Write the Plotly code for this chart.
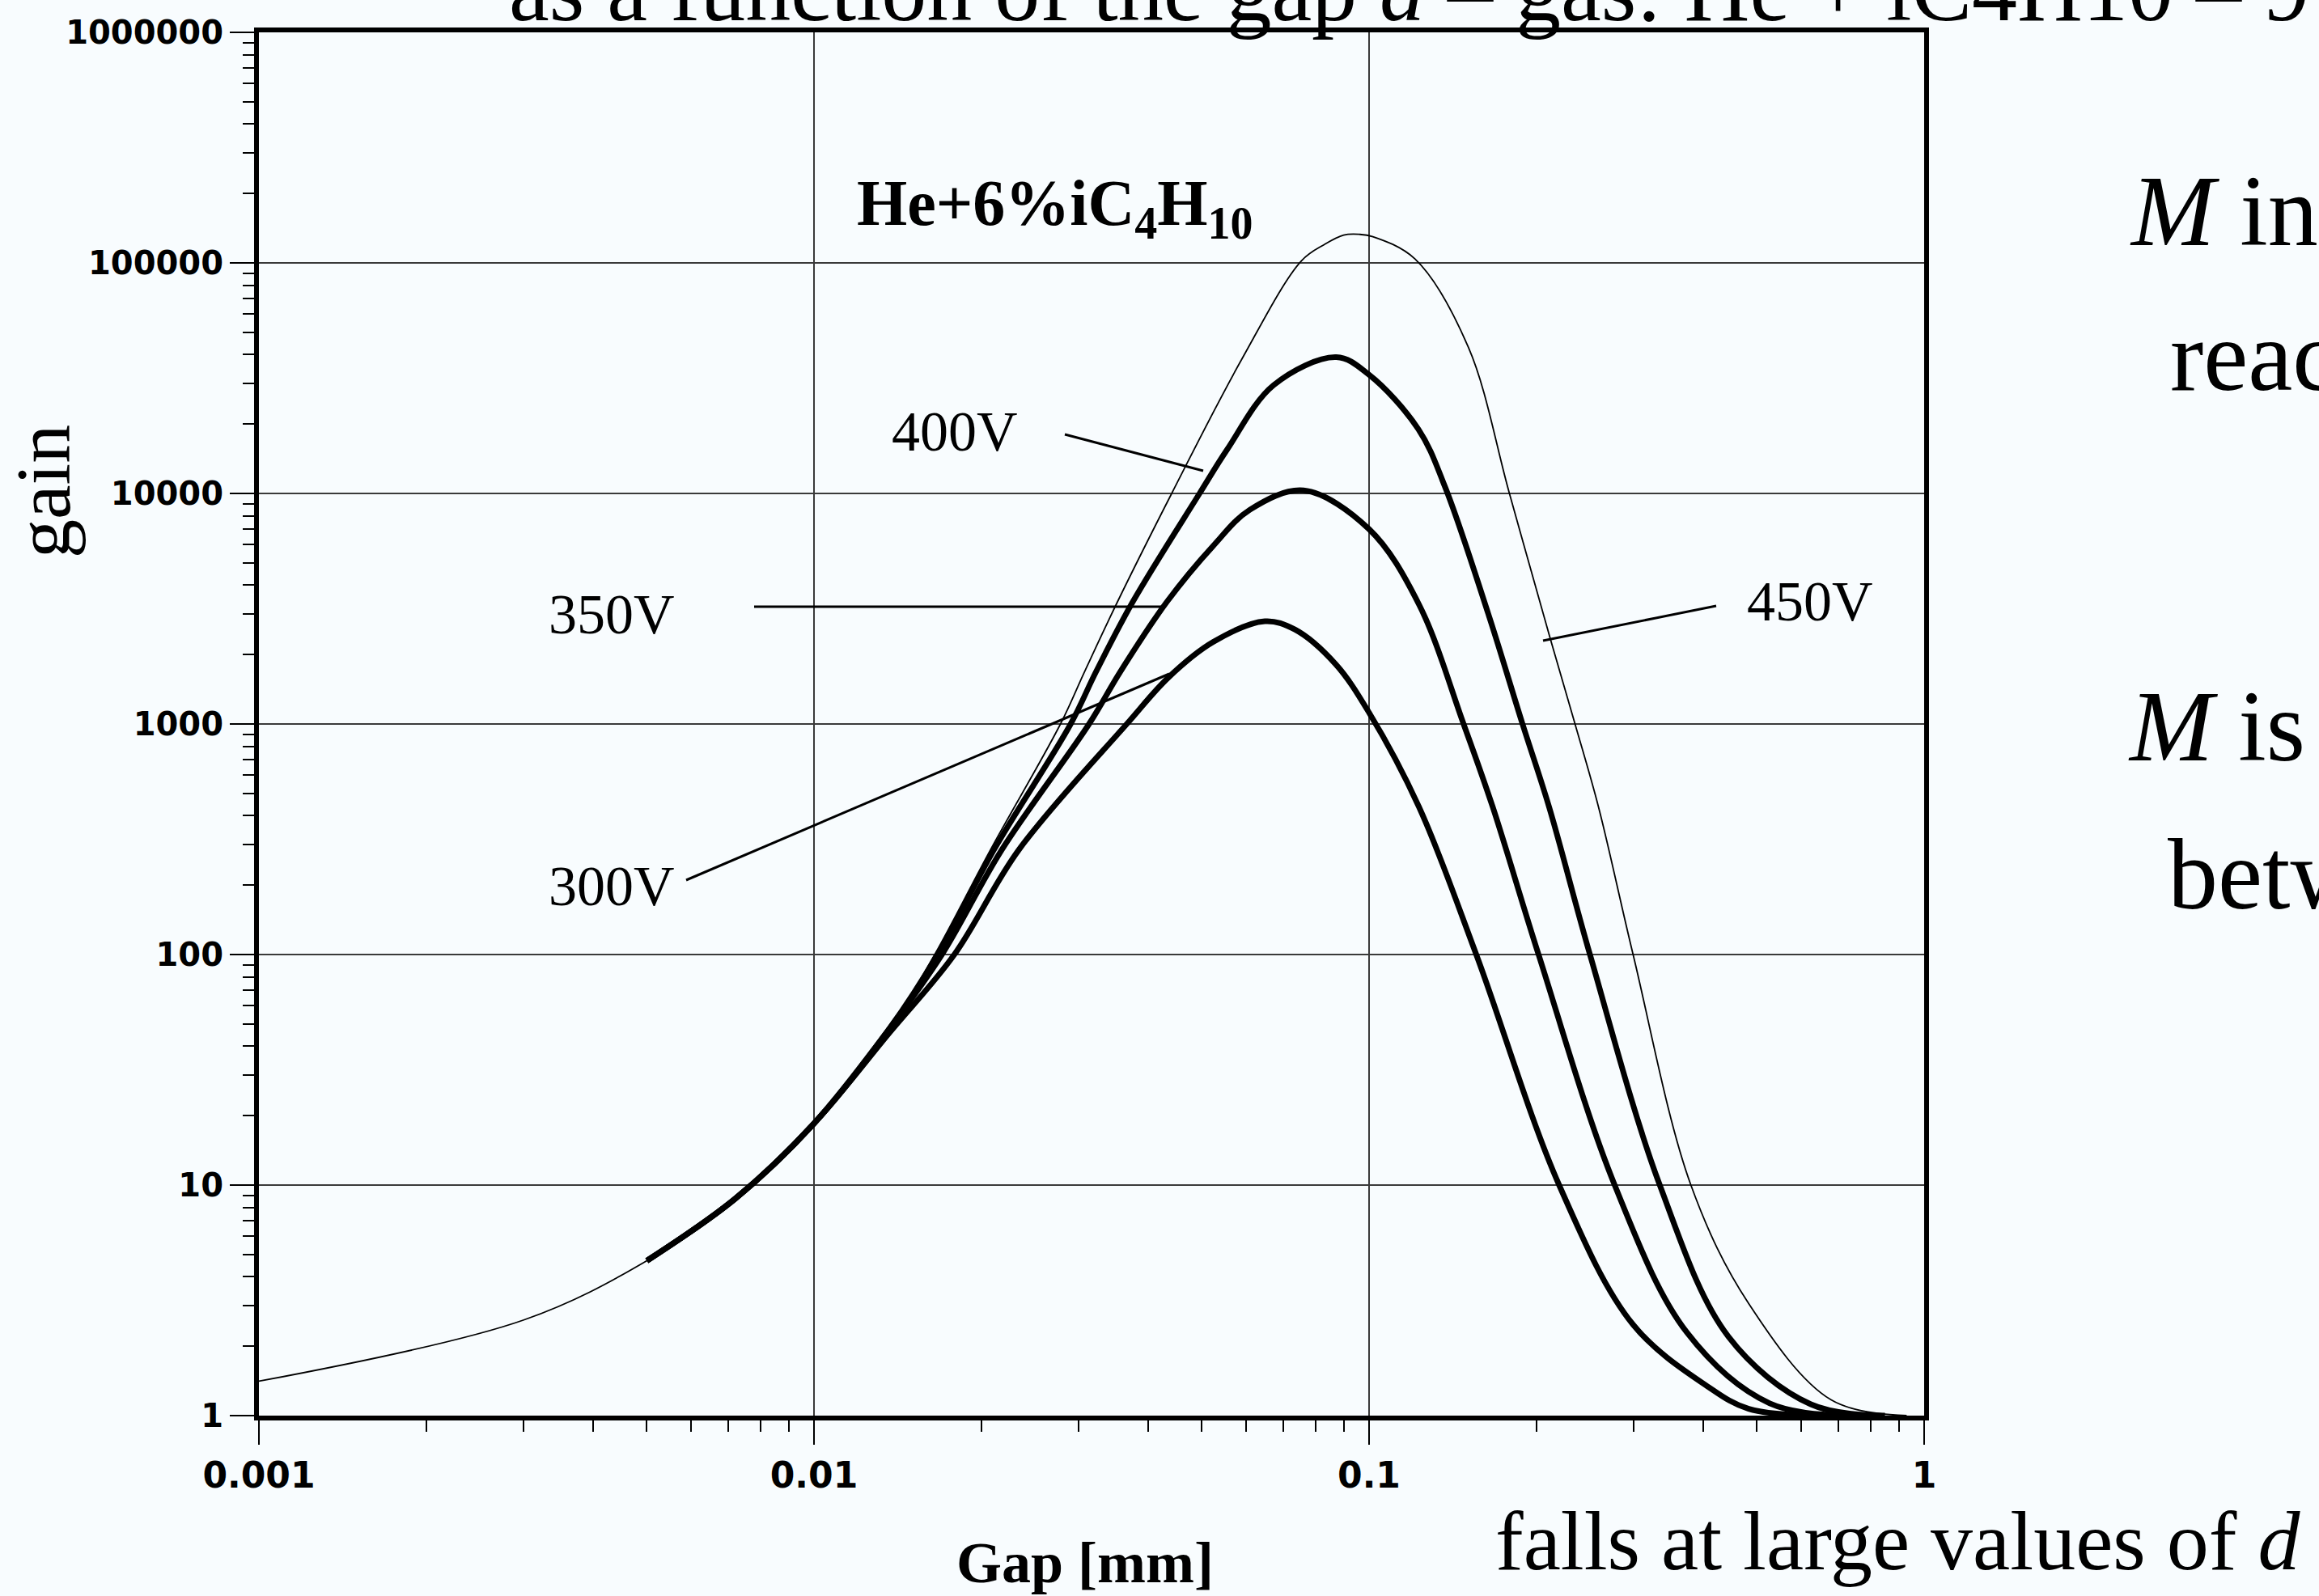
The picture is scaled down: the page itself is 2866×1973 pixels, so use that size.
import plotly.graph_objects as go

# ---------------- data ----------------
gap_450 = [0.001, 0.003, 0.005, 0.0072, 0.010, 0.0137, 0.0165, 0.0208, 0.0278, 0.0307, 0.0352,
           0.0441, 0.0589, 0.0755, 0.083, 0.090, 0.096, 0.1016, 0.121, 0.151, 0.179, 0.212,
           0.235, 0.259, 0.299, 0.38, 0.483, 0.68, 0.93]
gain_450 = [1.41, 2.6, 4.7, 8.7, 18.5, 48, 100, 285, 1000, 1680, 3380,
            10000, 38000, 102000, 120000, 132000, 133000, 130000, 104000, 43000, 10000, 2350,
            1000, 437, 100, 10, 3.06, 1.17, 1.0]

gap_400 = [0.005, 0.0072, 0.010, 0.0137, 0.0167, 0.0211, 0.029, 0.0322, 0.0375, 0.0495, 0.0555,
           0.0673, 0.0873, 0.1, 0.1227, 0.137, 0.164, 0.189, 0.211, 0.25, 0.334, 0.444, 0.625, 0.85]
gain_400 = [4.7, 8.7, 18.5, 48, 100, 285, 1000, 1680, 3380, 10000, 15500,
            29500, 39000, 32700, 19000, 10700, 3000, 1000, 437, 100, 10, 2.2, 1.12, 1.0]

gap_350 = [0.005, 0.0072, 0.010, 0.0137, 0.0170, 0.0218, 0.0313, 0.0356, 0.0432, 0.0523, 0.061,
           0.0762, 0.1, 0.123, 0.148, 0.167, 0.202, 0.277, 0.374, 0.527, 0.75]
gain_350 = [4.7, 8.7, 18.5, 48, 100, 285, 1000, 1680, 3380, 5900, 8500,
            10300, 7000, 3300, 1000, 437, 100, 10, 2.29, 1.13, 1.0]

gap_300 = [0.005, 0.0072, 0.010, 0.0137, 0.0179, 0.0234, 0.0366, 0.0436, 0.0524, 0.0649,
           0.0735, 0.087, 0.1, 0.123, 0.156, 0.22, 0.299, 0.407, 0.483, 0.65]
gain_300 = [4.7, 8.7, 18.5, 46, 100, 285, 1000, 1600, 2270, 2790,
            2570, 1820, 1120, 437, 100, 10, 2.48, 1.34, 1.07, 1.0]

voltage_labels = ["300V", "350V", "400V", "450V"]
mixture_label = "<b>He+6%iC<sub>4</sub>H<sub>10</sub></b>"
x_title = "<b>Gap [mm]</b>"
y_title = "gain"

# ---------------- layout helpers ----------------
W, H = 2866, 1973
L, R, T, B = 320, 2378, 40, 1750
BG = "#F8FCFE"
SERIF = "Liberation Serif, Times New Roman, serif"
SANS = "DejaVu Sans, Arial, sans-serif"


def px(X):
    return (X - L) / (R - L)


def py(Y):
    return (B - Y) / (B - T)


fig = go.Figure()

series = [
    (gap_300, gain_300, 7),
    (gap_350, gain_350, 7),
    (gap_400, gain_400, 7),
    (gap_450, gain_450, 1.8),
]
for gx, gy, w in series:
    fig.add_trace(go.Scatter(
        x=gx, y=gy, mode="lines",
        line=dict(color="black", width=w, shape="spline", smoothing=1.0),
        showlegend=False, hoverinfo="skip"))

axis_common = dict(
    type="log", tickmode="linear", dtick=1, exponentformat="none",
    showgrid=True, gridcolor="#3a3a3a", gridwidth=2,
    showline=True, linewidth=6, linecolor="black", mirror=True,
    ticks="outside", ticklen=30, tickwidth=2, tickcolor="black",
    zeroline=False,
    minor=dict(ticks="outside", ticklen=14, tickwidth=2, tickcolor="black",
               dtick="D1", showgrid=False),
)

fig.update_layout(
    width=W, height=H,
    paper_bgcolor=BG, plot_bgcolor=BG,
    margin=dict(l=L, r=W - R, t=T, b=H - B),
    xaxis=dict(range=[-3, 0], tickfont=dict(family=SANS, size=44, color="black", weight="bold"),
               **axis_common),
    yaxis=dict(range=[0, 6], tickformat="d",
               tickfont=dict(family=SANS, size=40, color="black", weight="bold"),
               **axis_common),
)

# mask of the broken 10000 grid line behind the 400V label
fig.add_shape(type="rect", xref="paper", yref="paper", layer="between",
              x0=px(1060), x1=px(1316), y0=py(622), y1=py(602),
              fillcolor=BG, line=dict(width=0))

# leader lines of the voltage labels (pixel positions of the drawing)
leaders = [
    (848, 1088, 1445, 833),    # 300V
    (932, 750, 1439, 750),     # 350V
    (1316, 537, 1487, 582),    # 400V
    (2121, 749, 1907, 792),    # 450V
]
for x0, y0, x1, y1 in leaders:
    fig.add_shape(type="line", xref="paper", yref="paper",
                  x0=px(x0), y0=py(y0), x1=px(x1), y1=py(y1),
                  line=dict(color="black", width=3))

ann = []


def text(s, X, Y, size, xanchor="center", yanchor="middle", angle=0, family=SERIF):
    ann.append(dict(text=s, x=px(X), y=py(Y), xref="paper", yref="paper",
                    xanchor=xanchor, yanchor=yanchor, showarrow=False, textangle=angle,
                    font=dict(family=family, size=size, color="black")))


# chart texts (Y = vertical middle of the text box)
text(mixture_label, 1304, 257, 80)
text(voltage_labels[0], 756, 1096, 70)
text(voltage_labels[1], 756, 759, 70)
text(voltage_labels[2], 1180, 533, 70)
text(voltage_labels[3], 2237, 743, 70)
text(x_title, 1341, 1932, 72)
text(y_title, 54, 608, 96, angle=-90)

# slide texts surrounding the scanned figure
text("as a function of the gap <i>d</i> \u2013 gas: He + iC4H10 \u2013 9", 627, -13, 112, xanchor="left")
text("<i>M</i> in", 2630, 262, 124, xanchor="left")
text("reac", 2680, 440, 124, xanchor="left")
text("<i>M</i> is", 2628, 898, 124, xanchor="left")
text("betw", 2677, 1081, 124, xanchor="left")
text("falls at large values of <i>d</i>", 1846, 1905, 104, xanchor="left")

fig.update_layout(annotations=ann)

fig.write_html("out.html")
